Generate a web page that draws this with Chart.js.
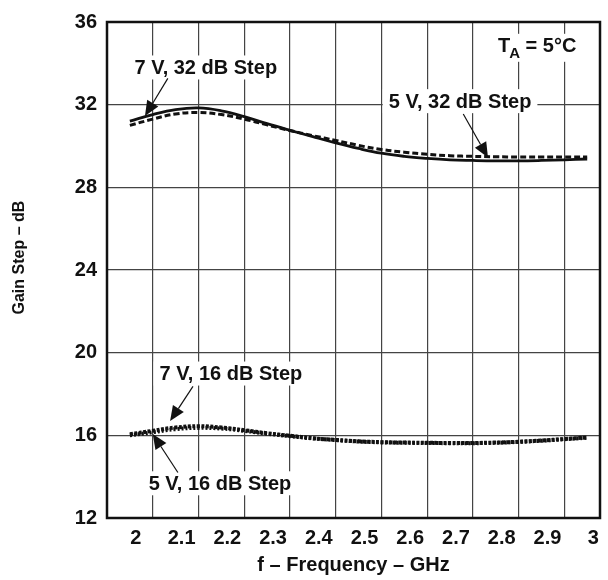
<!DOCTYPE html>
<html>
<head>
<meta charset="utf-8">
<script src="https://cdn.jsdelivr.net/npm/chart.js@4.4.0/dist/chart.umd.min.js"></script>
<style>
  html, body { margin: 0; padding: 0; background: #fff; }
  #wrap { width: 608px; height: 580px; }
</style>
</head>
<body>
<div id="wrap"><canvas id="gainChart"></canvas></div>
<script>
// frequency points (GHz)
const freqGHz = [2.00, 2.05, 2.10, 2.15, 2.20, 2.25, 2.30, 2.35, 2.40, 2.45, 2.50,
                 2.55, 2.60, 2.65, 2.70, 2.75, 2.80, 2.85, 2.90, 2.95, 3.00];

// gain step (dB)
const gain7V32 = [31.20, 31.52, 31.76, 31.84, 31.70, 31.42, 31.08, 30.76, 30.45, 30.15, 29.88,
                  29.65, 29.50, 29.40, 29.33, 29.30, 29.28, 29.28, 29.30, 29.33, 29.37];
const gain5V32 = [31.00, 31.30, 31.55, 31.62, 31.52, 31.30, 31.02, 30.75, 30.50, 30.27, 30.03,
                  29.83, 29.70, 29.60, 29.53, 29.50, 29.48, 29.47, 29.47, 29.47, 29.47];
const gain7V16 = [16.05, 16.22, 16.38, 16.44, 16.38, 16.25, 16.10, 15.98, 15.86, 15.78, 15.71,
                  15.67, 15.65, 15.64, 15.63, 15.63, 15.65, 15.69, 15.75, 15.82, 15.90];
const gain5V16 = [16.00, 16.15, 16.30, 16.36, 16.33, 16.22, 16.08, 15.96, 15.85, 15.77, 15.70,
                  15.66, 15.64, 15.63, 15.62, 15.62, 15.64, 15.68, 15.74, 15.81, 15.88];

const xTickValues = [2.0, 2.1, 2.2, 2.3, 2.4, 2.5, 2.6, 2.7, 2.8, 2.9, 3.0];
const yTickValues = [12, 16, 20, 24, 28, 32, 36];

const FONT = 'Liberation Sans, Arial, Helvetica, sans-serif';
const INK = '#111';
const GRID = '#444';

function toPoints(ys) {
    return freqGHz.map((f, i) => ({ x: f, y: ys[i] }));
}

// callouts: label centre, arrow start and arrow tip, in data units
const callouts = [
    { text: '7 V, 32 dB Step', at: [2.166, 33.80], from: [2.083, 33.27], to: [2.033, 31.45] },
    { text: '5 V, 32 dB Step', at: [2.722, 32.17], from: [2.729, 31.55], to: [2.783, 29.44] },
    { text: '7 V, 16 dB Step', at: [2.221, 18.99], from: [2.138, 18.37], to: [2.088, 16.69] },
    { text: '5 V, 16 dB Step', at: [2.197, 13.68], from: [2.105, 14.20], to: [2.050, 16.07] }
];

const framePlugin = {
    id: 'frame',
    beforeDatasetsDraw(chart) {
        const { ctx, chartArea: a } = chart;
        ctx.save();
        ctx.strokeStyle = INK;
        ctx.lineWidth = 2.5;
        ctx.strokeRect(a.left, a.top, a.right - a.left, a.bottom - a.top);

        // y axis title, sits a little above the middle like the original
        ctx.translate(20, a.top + (a.bottom - a.top) * 0.475);
        ctx.rotate(-Math.PI / 2);
        ctx.font = 'bold 16px ' + FONT;
        ctx.fillStyle = INK;
        ctx.textAlign = 'center';
        ctx.textBaseline = 'middle';
        ctx.fillText('Gain Step \u2013 dB', 0, 0);
        ctx.restore();
    }
};

const calloutPlugin = {
    id: 'callouts',
    afterDatasetsDraw(chart) {
        const { ctx, scales: { x, y } } = chart;
        ctx.save();
        ctx.font = 'bold 20px ' + FONT;
        ctx.textAlign = 'center';
        ctx.textBaseline = 'middle';

        callouts.forEach(c => {
            const cx = x.getPixelForValue(c.at[0]);
            const cy = y.getPixelForValue(c.at[1]);
            const w = ctx.measureText(c.text).width + 12;
            ctx.fillStyle = '#fff';
            ctx.fillRect(cx - w / 2, cy - 12, w, 24);
            ctx.fillStyle = INK;
            ctx.fillText(c.text, cx, cy + 1);

            const x0 = x.getPixelForValue(c.from[0]);
            const y0 = y.getPixelForValue(c.from[1]);
            const x1 = x.getPixelForValue(c.to[0]);
            const y1 = y.getPixelForValue(c.to[1]);
            const ang = Math.atan2(y1 - y0, x1 - x0);
            const len = 15, half = 6.5;
            const bx = x1 - len * Math.cos(ang);
            const by = y1 - len * Math.sin(ang);
            ctx.strokeStyle = INK;
            ctx.lineWidth = 1.2;
            ctx.beginPath();
            ctx.moveTo(x0, y0);
            ctx.lineTo(bx, by);
            ctx.stroke();
            ctx.beginPath();
            ctx.moveTo(x1, y1);
            ctx.lineTo(bx + half * Math.sin(ang), by - half * Math.cos(ang));
            ctx.lineTo(bx - half * Math.sin(ang), by + half * Math.cos(ang));
            ctx.closePath();
            ctx.fill();
        });

        // temperature note: T with subscript A
        const tx = x.getPixelForValue(2.805);
        const ty = y.getPixelForValue(34.8);
        ctx.textAlign = 'left';
        ctx.font = 'bold 20px ' + FONT;
        const wT = ctx.measureText('T').width;
        ctx.font = 'bold 15px ' + FONT;
        const wA = ctx.measureText('A').width;
        ctx.font = 'bold 20px ' + FONT;
        const wRest = ctx.measureText(' = 5\u00B0C').width;
        ctx.fillStyle = '#fff';
        ctx.fillRect(tx - 5, ty - 13, wT + wA + wRest + 10, 28);
        ctx.fillStyle = INK;
        ctx.fillText('T', tx, ty);
        ctx.font = 'bold 15px ' + FONT;
        ctx.fillText('A', tx + wT - 1, ty + 7);
        ctx.font = 'bold 20px ' + FONT;
        ctx.fillText(' = 5\u00B0C', tx + wT + wA - 1, ty);
        ctx.restore();
    }
};

new Chart(document.getElementById('gainChart'), {
    type: 'line',
    data: {
        datasets: [
            {
                label: '7 V, 32 dB Step',
                data: toPoints(gain7V32),
                borderColor: INK,
                borderWidth: 2.8,
                tension: 0.4,
                pointRadius: 0
            },
            {
                label: '5 V, 32 dB Step',
                data: toPoints(gain5V32),
                borderColor: INK,
                borderWidth: 3,
                borderDash: [6, 3],
                tension: 0.4,
                pointRadius: 0
            },
            {
                label: '7 V, 16 dB Step',
                data: toPoints(gain7V16),
                borderColor: INK,
                borderWidth: 4,
                borderDash: [3, 1.5],
                tension: 0.4,
                pointRadius: 0
            },
            {
                label: '5 V, 16 dB Step',
                data: toPoints(gain5V16),
                borderColor: INK,
                borderWidth: 4,
                borderDash: [2, 2],
                tension: 0.4,
                pointRadius: 0
            }
        ]
    },
    options: {
        animation: false,
        responsive: true,
        maintainAspectRatio: false,
        layout: { padding: { top: 17, right: 8, left: 0, bottom: 0 } },
        plugins: {
            legend: { display: false },
            tooltip: { enabled: false }
        },
        scales: {
            x: {
                type: 'linear',
                min: 1.95,
                max: 3.028,
                afterBuildTicks: s => { s.ticks = xTickValues.map(v => ({ value: v })); },
                afterFit: s => { s.height = 62; },
                ticks: {
                    autoSkip: false,
                    maxRotation: 0,
                    labelOffset: 6,
                    padding: 8,
                    color: INK,
                    font: { family: FONT, size: 20, weight: 'bold' },
                    callback: v => String(Number(v.toFixed(1)))
                },
                grid: { offset: true, color: GRID, lineWidth: 1.2, drawTicks: false },
                border: { display: false },
                title: {
                    display: true,
                    text: 'f \u2013 Frequency \u2013 GHz',
                    color: INK,
                    font: { family: FONT, size: 20, weight: 'bold' },
                    padding: { top: 0, bottom: 3 }
                }
            },
            y: {
                min: 12,
                max: 36,
                afterBuildTicks: s => { s.ticks = yTickValues.map(v => ({ value: v })); },
                afterFit: s => { s.width = 107; },
                ticks: {
                    padding: 10,
                    color: INK,
                    font: { family: FONT, size: 20, weight: 'bold' }
                },
                grid: { color: GRID, lineWidth: 1.2, drawTicks: false },
                border: { display: false }
            }
        }
    },
    plugins: [framePlugin, calloutPlugin]
});
</script>
</body>
</html>
